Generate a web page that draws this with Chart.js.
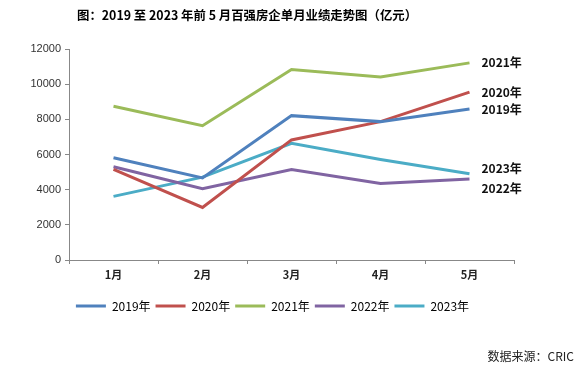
<!DOCTYPE html>
<html>
<head>
<meta charset="utf-8">
<script src="https://cdn.jsdelivr.net/npm/chart.js@4.4.0/dist/chart.umd.min.js"></script>
<style>
  html, body { margin: 0; padding: 0; background: #fff; }
  #box { position: relative; width: 584px; height: 373px; }
</style>
</head>
<body>
<div id="box"><canvas id="trendChart"></canvas></div>
<script>
var months = ['1月', '2月', '3月', '4月', '5月'];
var seriesNames = ['2019年', '2020年', '2021年', '2022年', '2023年'];
var v2019 = [5820, 4670, 8210, 7870, 8590];
var v2020 = [5150, 2990, 6830, 7870, 9550];
var v2021 = [8740, 7640, 10830, 10410, 11210];
var v2022 = [5300, 4060, 5150, 4350, 4610];
var v2023 = [3620, 4710, 6640, 5720, 4900];
var yTicks = [0, 2000, 4000, 6000, 8000, 10000, 12000];
var colors = ['#4F81BD', '#C0504D', '#9BBB59', '#8064A2', '#4BACC6'];
var labelShift = [0, 0, 0, 9, -5];

var cjk = '"Noto Sans CJK SC", "Noto Sans", sans-serif';

var endLabels = {
	id: 'endLabels',
	afterDatasetsDraw: function(c) {
		var ctx = c.ctx;
		ctx.save();
		ctx.font = 'bold 12px ' + cjk;
		ctx.fillStyle = '#111';
		ctx.textAlign = 'left';
		ctx.textBaseline = 'middle';
		c.data.datasets.forEach(function(ds, i) {
			var pts = c.getDatasetMeta(i).data;
			var p = pts[pts.length - 1];
			ctx.fillText(ds.label, p.x + 12, p.y + labelShift[i]);
		});
		ctx.restore();
	},
	afterDraw: function(c) {
		var ctx = c.ctx;
		ctx.save();
		ctx.font = 'bold 12.4px ' + cjk;
		ctx.fillStyle = '#000';
		ctx.textBaseline = 'middle';
		ctx.fillText('图：2019 至 2023 年前 5 月百强房企单月业绩走势图（亿元）', 77, 15);
		ctx.font = '12px ' + cjk;
		ctx.fillStyle = '#222';
		ctx.textAlign = 'right';
		ctx.fillText('数据来源：CRIC', 574, 356);
		ctx.restore();
	}
};

var datasets = [v2019, v2020, v2021, v2022, v2023].map(function(vals, i) {
	return {
		label: seriesNames[i],
		data: vals,
		borderColor: colors[i],
		backgroundColor: colors[i],
		borderWidth: 3,
		pointRadius: 0,
		tension: 0
	};
});

new Chart(document.getElementById('trendChart'), {
	type: 'line',
	data: { labels: months, datasets: datasets },
	options: {
		responsive: true,
		maintainAspectRatio: false,
		animation: false,
		layout: { padding: { left: 31, right: 70, top: 49, bottom: 51 } },
		scales: {
			x: {
				offset: true,
				grid: { display: true, offset: true, drawOnChartArea: false, tickLength: 4, color: '#888' },
				border: { color: '#888' },
				ticks: { font: { family: cjk, size: 11, weight: 'bold' }, color: '#222', padding: 4 },
				afterFit: function(s) { s.height = 35; }
			},
			y: {
				min: 0,
				max: 12000,
				afterBuildTicks: function(s) { s.ticks = yTicks.map(function(v) { return { value: v }; }); },
				grid: { display: true, drawOnChartArea: false, tickLength: 4, color: '#888' },
				border: { color: '#888' },
				ticks: {
					font: { family: '"Liberation Sans", Arial, sans-serif', size: 11 },
					color: '#333',
					padding: 4,
					callback: function(v) { return String(v); }
				},
				afterFit: function(s) { s.width = 38; }
			}
		},
		plugins: {
			legend: {
				position: 'bottom',
				labels: {
					boxWidth: 30,
					boxHeight: 3,
					padding: 5,
					color: '#222',
					font: { family: cjk, size: 12 },
					generateLabels: function(c) {
						return c.data.datasets.map(function(ds, i) {
							return { text: ds.label, fillStyle: ds.borderColor, strokeStyle: ds.borderColor, lineWidth: 0, datasetIndex: i };
						});
					}
				}
			},
			tooltip: { enabled: false }
		}
	},
	plugins: [endLabels]
});
</script>
</body>
</html>
